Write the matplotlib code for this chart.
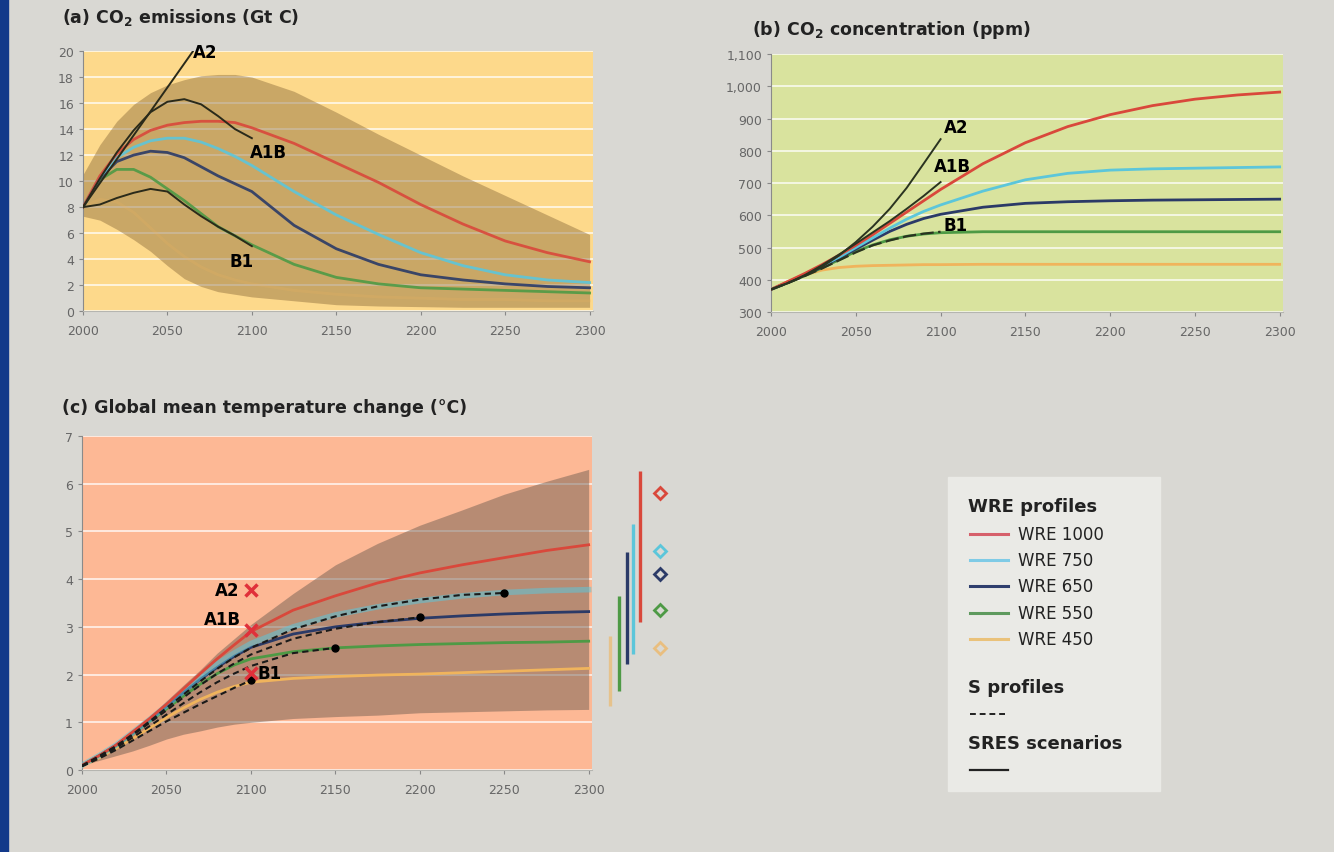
import matplotlib
matplotlib.use("Agg")
import matplotlib.pyplot as plt
from matplotlib.lines import Line2D
from matplotlib.patches import Rectangle

plt.rcParams['font.family'] = ['DejaVu Sans']
plt.rcParams['mathtext.default'] = 'regular'

# ---- data -------------------------------------------------------------
years = [2000, 2010, 2020, 2030, 2040, 2050, 2060, 2070, 2080, 2090, 2100,
         2125, 2150, 2175, 2200, 2225, 2250, 2275, 2300]
wre_names = ['WRE 1000', 'WRE 750', 'WRE 650', 'WRE 550', 'WRE 450']

# (a) CO2 emissions, Gt C
emis_1000 = [8.0, 10.4, 12.1, 13.2, 13.9, 14.3, 14.5, 14.6, 14.6, 14.5, 14.1,
             12.9, 11.4, 9.9, 8.2, 6.7, 5.4, 4.5, 3.8]
emis_750 = [8.0, 10.3, 11.8, 12.6, 13.1, 13.3, 13.3, 13.0, 12.5, 11.9, 11.2,
            9.2, 7.4, 5.9, 4.5, 3.5, 2.8, 2.4, 2.2]
emis_650 = [8.0, 10.2, 11.5, 12.0, 12.3, 12.2, 11.8, 11.1, 10.4, 9.8, 9.2,
            6.6, 4.8, 3.6, 2.8, 2.4, 2.1, 1.9, 1.8]
emis_550 = [8.0, 10.1, 10.9, 10.9, 10.3, 9.4, 8.5, 7.5, 6.5, 5.8, 5.1,
            3.6, 2.6, 2.1, 1.8, 1.7, 1.6, 1.5, 1.4]
emis_450 = [8.0, 8.6, 8.4, 7.6, 6.4, 5.2, 4.2, 3.4, 2.8, 2.4, 2.1,
            1.6, 1.3, 1.1, 1.0, 0.9, 0.9, 0.8, 0.8]
emis_band_lo = [7.3, 7.0, 6.3, 5.5, 4.6, 3.5, 2.5, 1.9, 1.5, 1.3, 1.1,
                0.8, 0.5, 0.4, 0.35, 0.3, 0.3, 0.3, 0.3]
emis_band_hi = [10.5, 12.8, 14.6, 15.9, 16.8, 17.4, 17.8, 18.1, 18.2, 18.2, 18.0,
                16.9, 15.3, 13.6, 12.0, 10.4, 8.9, 7.4, 5.9]

sres_years_a2 = [2000, 2025, 2050, 2075]
emis_a2 = [8.0, 12.6, 17.2, 21.8]
sres_years = [2000, 2010, 2020, 2030, 2040, 2050, 2060, 2070, 2080, 2090, 2100]
emis_a1b = [8.0, 10.2, 12.2, 13.9, 15.3, 16.1, 16.3, 15.9, 15.0, 14.0, 13.3]
emis_b1 = [8.0, 8.2, 8.7, 9.1, 9.4, 9.2, 8.2, 7.3, 6.5, 5.8, 5.0]

# (b) CO2 concentration, ppm
conc_1000 = [370, 395, 420, 447, 476, 507, 540, 575, 610, 645, 680,
             760, 825, 875, 912, 940, 960, 973, 982]
conc_750 = [370, 393, 417, 443, 470, 500, 530, 560, 588, 612, 632,
            675, 710, 730, 740, 744, 746, 748, 750]
conc_650 = [370, 392, 415, 440, 467, 495, 523, 550, 572, 590, 603,
            625, 637, 642, 645, 647, 648, 649, 650]
conc_550 = [370, 391, 413, 437, 462, 488, 508, 524, 535, 542, 546,
            549, 549, 549, 549, 549, 549, 549, 549]
conc_450 = [370, 395, 415, 430, 438, 442, 444, 445, 446, 447, 447,
            448, 448, 448, 448, 448, 448, 448, 448]
conc_a2 = [370, 390, 413, 440, 475, 517, 565, 620, 685, 760, 836]
conc_a1b = [370, 390, 415, 445, 478, 512, 547, 582, 620, 660, 703]
conc_b1 = [370, 390, 412, 435, 460, 485, 507, 522, 535, 543, 549]

# (c) global mean temperature change, deg C
temp_1000 = [0.1, 0.3, 0.52, 0.8, 1.08, 1.38, 1.7, 2.02, 2.33, 2.62, 2.9,
             3.35, 3.65, 3.92, 4.13, 4.3, 4.45, 4.6, 4.72]
temp_750 = [0.1, 0.3, 0.52, 0.79, 1.06, 1.35, 1.65, 1.95, 2.22, 2.45, 2.65,
            3.0, 3.25, 3.42, 3.55, 3.65, 3.72, 3.76, 3.78]
temp_650 = [0.1, 0.3, 0.52, 0.78, 1.05, 1.33, 1.62, 1.9, 2.15, 2.38, 2.57,
            2.85, 3.0, 3.1, 3.18, 3.23, 3.27, 3.3, 3.32]
temp_550 = [0.1, 0.3, 0.5, 0.76, 1.02, 1.28, 1.55, 1.8, 2.02, 2.2, 2.33,
            2.48, 2.56, 2.6, 2.63, 2.65, 2.67, 2.68, 2.7]
temp_450 = [0.08, 0.25, 0.45, 0.66, 0.88, 1.1, 1.3, 1.48, 1.63, 1.75, 1.84,
            1.92, 1.96, 1.99, 2.01, 2.04, 2.07, 2.1, 2.13]
temp_band_lo = [0.1, 0.2, 0.3, 0.4, 0.52, 0.65, 0.75, 0.82, 0.9, 0.96, 1.0,
                1.08, 1.12, 1.15, 1.2, 1.22, 1.24, 1.26, 1.27]
temp_band_hi = [0.1, 0.3, 0.55, 0.82, 1.12, 1.45, 1.78, 2.1, 2.45, 2.75, 3.05,
                3.7, 4.3, 4.75, 5.13, 5.45, 5.78, 6.05, 6.3]

s_temp = {
    'S450': [0.08, 0.24, 0.42, 0.62, 0.82, 1.02, 1.2, 1.38, 1.55, 1.72, 1.88],
    'S550': [0.08, 0.26, 0.46, 0.68, 0.92, 1.16, 1.4, 1.63, 1.84, 2.02, 2.18, 2.45, 2.56],
    'S650': [0.09, 0.28, 0.49, 0.73, 0.99, 1.25, 1.52, 1.78, 2.02, 2.23, 2.42, 2.75, 2.96, 3.1, 3.2],
    'S750': [0.09, 0.29, 0.5, 0.75, 1.02, 1.3, 1.58, 1.86, 2.12, 2.36, 2.56, 2.95, 3.22, 3.43, 3.57, 3.67, 3.71],
}

sres_names = ['A2', 'A1B', 'B1']
sres_temp_2100 = [3.78, 2.93, 2.03]

# ranges at equilibrium (bars) and equilibrium best estimates (diamonds)
eq_low = [3.10, 2.43, 2.22, 1.66, 1.34]
eq_high = [6.27, 5.16, 4.57, 3.65, 2.81]
eq_best = [5.81, 4.59, 4.11, 3.35, 2.56]

# ---- style ------------------------------------------------------------
wre_colors = ['#D9483B', '#5CC6DA', '#2B3A67', '#4E9A45', '#F0B45C']
legend_colors = ['#D6606B', '#7FCBE6', '#2F3F6E', '#5E9A5E', '#EAC27A']
fig_bg = '#D9D8D3'
tick_col = '#666666'

fig = plt.figure(figsize=(13.34, 8.53), dpi=100, facecolor=fig_bg)
fig.add_artist(Rectangle((0, 0), 8 / 1334, 1, transform=fig.transFigure,
                         color='#12398A', zorder=0))


def style_axes(ax, bg, yticks, ylabels=None):
    ax.set_facecolor(bg)
    ax.set_xlim(2000, 2302)
    ax.set_xticks([2000, 2050, 2100, 2150, 2200, 2250, 2300])
    ax.set_yticks(yticks)
    if ylabels is not None:
        ax.set_yticklabels(ylabels)
    ax.set_ylim(yticks[0], yticks[-1])
    ax.set_axisbelow(True)
    ax.yaxis.grid(True, color='white', lw=1.4, alpha=0.7)
    for s in ['top', 'right']:
        ax.spines[s].set_visible(False)
    ax.spines['left'].set_color('#8A8A8A')
    ax.spines['bottom'].set_color('#B5B5B0')
    ax.spines['left'].set_linewidth(0.8)
    ax.spines['bottom'].set_linewidth(0.8)
    ax.tick_params(axis='both', colors='#888888', labelcolor=tick_col,
                   labelsize=9, length=3, width=0.8, direction='out')
    ax.tick_params(axis='x', pad=6)


# ---- (a) emissions ----------------------------------------------------
ax_a = fig.add_axes([0.0622, 0.634, 0.3823, 0.305])
style_axes(ax_a, '#FDD98B', list(range(0, 21, 2)))
ax_a.fill_between(years, emis_band_lo, emis_band_hi, color='#8B6A3A',
                  alpha=0.45, lw=0, zorder=2)
for vals, c in zip([emis_450, emis_550, emis_650, emis_750, emis_1000],
                   wre_colors[::-1]):
    ax_a.plot(years, vals, color=c, lw=2.0, zorder=3,
              alpha=0.2 if c == wre_colors[4] else 0.9)
ax_a.plot(sres_years_a2, emis_a2, color='#2A2A1A', lw=1.4, zorder=4)
ax_a.plot(sres_years, emis_a1b, color='#2A2A1A', lw=1.4, zorder=4)
ax_a.plot(sres_years, emis_b1, color='#2A2A1A', lw=1.4, zorder=4)
ax_a.text(2065, 19.9, 'A2', fontsize=12, fontweight='bold', va='center', ha='left')
ax_a.text(2110, 12.2, 'A1B', fontsize=12, fontweight='bold', va='center', ha='center')
ax_a.text(2094, 3.85, 'B1', fontsize=12, fontweight='bold', va='center', ha='center')
fig.text(0.0465, 0.979, '(a) CO$_2$ emissions (Gt C)', fontsize=12.5,
         fontweight='bold', va='center', ha='left', color='#222222')

# ---- (b) concentration ------------------------------------------------
ax_b = fig.add_axes([0.578, 0.633, 0.3838, 0.3025])
b_ticks = list(range(300, 1101, 100))
style_axes(ax_b, '#D9E39E', b_ticks, [f'{v:,}' for v in b_ticks])
for vals, c in zip([conc_450, conc_550, conc_650, conc_750, conc_1000],
                   wre_colors[::-1]):
    ax_b.plot(years, vals, color=c, lw=2.0, zorder=3)
ax_b.plot(sres_years, conc_a2, color='#2A3320', lw=1.4, zorder=4)
ax_b.plot(sres_years, conc_a1b, color='#2A3320', lw=1.4, zorder=4)
ax_b.plot(sres_years, conc_b1, color='#2A3320', lw=1.6, zorder=4,
          dashes=(6, 2))
ax_b.text(2109, 874, 'A2', fontsize=12, fontweight='bold', va='center', ha='center')
ax_b.text(2107, 753, 'A1B', fontsize=12, fontweight='bold', va='center', ha='center')
ax_b.text(2109, 570, 'B1', fontsize=12, fontweight='bold', va='center', ha='center')
fig.text(0.5637, 0.965, '(b) CO$_2$ concentration (ppm)', fontsize=12.5,
         fontweight='bold', va='center', ha='left', color='#222222')

# ---- (c) temperature --------------------------------------------------
ax_c = fig.add_axes([0.0615, 0.0961, 0.3823, 0.3916])
style_axes(ax_c, '#FDB895', list(range(0, 8)))
ax_c.fill_between(years, temp_band_lo, temp_band_hi, color='#735F53',
                  alpha=0.5, lw=0, zorder=2)
temps = [temp_1000, temp_750, temp_650, temp_550, temp_450]
for i in [4, 3, 2, 1, 0]:
    lw = 4.0 if i == 1 else 2.0
    al = 0.55 if i == 1 else 1
    ax_c.plot(years, temps[i], color=wre_colors[i], lw=lw, alpha=al, zorder=3)
for name, vals in s_temp.items():
    yrs = years[:len(vals)]
    ax_c.plot(yrs, vals, color='#1A1A1A', lw=1.5, dashes=(3, 2), zorder=4)
    ax_c.plot(yrs[-1], vals[-1], 'o', color='black', ms=5, zorder=5)
ax_c.plot([2100] * 3, sres_temp_2100, 'x', color='#E0303A', ms=9, mew=2.5, zorder=6)
ax_c.text(2093, sres_temp_2100[0], 'A2', fontsize=12, fontweight='bold',
          va='center', ha='right')
ax_c.text(2094, 3.17, 'A1B', fontsize=12, fontweight='bold',
          va='center', ha='right')
ax_c.text(2104, sres_temp_2100[2], 'B1', fontsize=12, fontweight='bold',
          va='center', ha='left')

bar_x = [2330.5, 2326.1, 2322.6, 2318.1, 2312.8]
for i in range(5):
    ax_c.plot([bar_x[i]] * 2, [eq_low[i], eq_high[i]], color=wre_colors[i],
              lw=2.4, alpha=0.6 if i == 4 else 1, clip_on=False,
              solid_capstyle='butt')
    ax_c.plot(2342, eq_best[i], 'D', mfc='none', mec=wre_colors[i], ms=6.5,
              mew=2, clip_on=False, alpha=0.7 if i == 4 else 1)
fig.text(0.0465, 0.5217, '(c) Global mean temperature change (°C)',
         fontsize=12.5, fontweight='bold', va='center', ha='left', color='#222222')

# ---- legend box -------------------------------------------------------
fig.add_artist(Rectangle((0.7106, 0.0715), 0.159, 0.3681,
                         transform=fig.transFigure, color='#EAEAE6', zorder=1))
fig.text(0.7256, 0.4056, 'WRE profiles', fontsize=13, fontweight='bold',
         va='center', ha='left', color='#222222')
entry_y = [0.3728, 0.3423, 0.3118, 0.2802, 0.2497]
for name, c, yy in zip(wre_names, legend_colors, entry_y):
    fig.add_artist(Line2D([0.7271, 0.7556], [yy, yy], color=c, lw=2.2,
                          transform=fig.transFigure))
    fig.text(0.7631, yy, name, fontsize=12, va='center', ha='left', color='#222222')
fig.text(0.7256, 0.1934, 'S profiles', fontsize=13, fontweight='bold',
         va='center', ha='left', color='#222222')
fig.add_artist(Line2D([0.7271, 0.7556], [0.1618, 0.1618], color='#222222',
                      lw=1.4, dashes=(3, 2), transform=fig.transFigure))
fig.text(0.7256, 0.1278, 'SRES scenarios', fontsize=13, fontweight='bold',
         va='center', ha='left', color='#222222')
fig.add_artist(Line2D([0.7271, 0.7556], [0.0961, 0.0961], color='#222222',
                      lw=1.6, transform=fig.transFigure))

fig.savefig('out.png', dpi=100, facecolor=fig_bg)
